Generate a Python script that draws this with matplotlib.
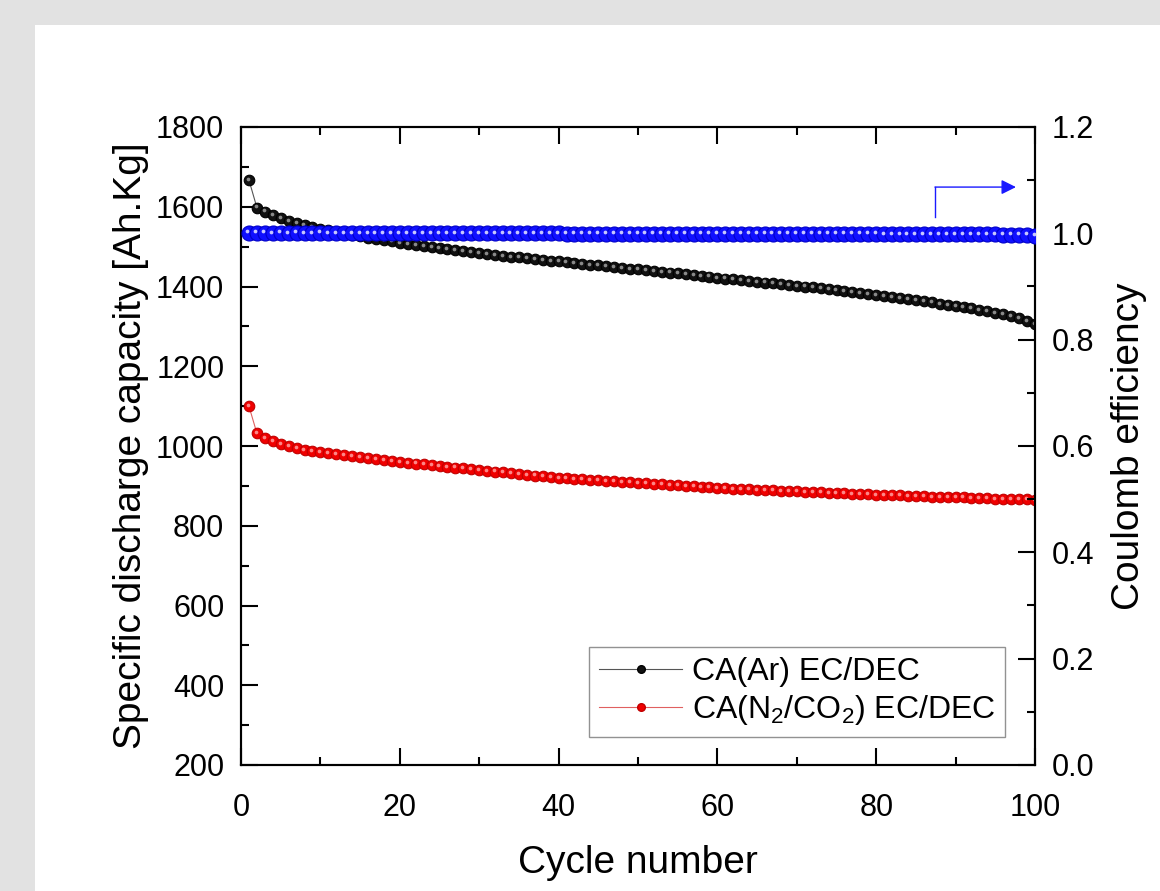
import matplotlib
matplotlib.use("Agg")
import matplotlib.pyplot as plt
from matplotlib.ticker import MultipleLocator
from matplotlib.transforms import offset_copy
from matplotlib.patches import Rectangle
from matplotlib.lines import Line2D

plt.rcParams['font.family'] = ['Liberation Sans', 'DejaVu Sans']
plt.rcParams['mathtext.fontset'] = 'custom'
plt.rcParams['mathtext.rm'] = 'Liberation Sans'
plt.rcParams['mathtext.it'] = 'Liberation Sans'

cycles = list(range(1, 101))

cap_ar = [1667, 1598, 1588, 1580, 1572, 1565, 1560, 1554, 1549, 1545,
          1541, 1537, 1533, 1529, 1526, 1522, 1519, 1516, 1513, 1510,
          1507, 1504, 1501, 1498, 1496, 1493, 1491, 1488, 1486, 1484,
          1481, 1479, 1477, 1475, 1473, 1471, 1469, 1467, 1465, 1463,
          1461, 1459, 1457, 1455, 1453, 1451, 1449, 1447, 1445, 1443,
          1441, 1439, 1437, 1435, 1433, 1431, 1429, 1427, 1425, 1422,
          1420, 1418, 1416, 1414, 1412, 1410, 1408, 1406, 1404, 1402,
          1400, 1398, 1396, 1394, 1391, 1389, 1387, 1384, 1382, 1379,
          1377, 1374, 1371, 1369, 1366, 1363, 1360, 1357, 1354, 1351,
          1348, 1345, 1341, 1338, 1334, 1330, 1325, 1320, 1314, 1306]

cap_n2co2 = [1100, 1032, 1020, 1012, 1005, 999, 995, 991, 988, 985,
             982, 979, 977, 974, 972, 970, 968, 966, 962, 960,
             958, 956, 954, 952, 950, 948, 946, 944, 942, 940,
             938, 936, 934, 932, 930, 928, 926, 924, 922, 920,
             919, 917, 916, 915, 914, 912, 911, 910, 909, 907,
             906, 905, 904, 902, 901, 900, 899, 897, 896, 895,
             894, 893, 892, 891, 890, 890, 889, 888, 887, 886,
             885, 884, 884, 883, 882, 881, 880, 879, 879, 878,
             877, 877, 876, 875, 875, 874, 873, 873, 872, 871,
             871, 870, 869, 869, 868, 867, 867, 866, 866, 865]

coulomb_eff = [1.001, 1.001, 1.001, 1.000, 1.001, 1.000, 1.001, 1.000, 1.000, 1.001,
               1.000, 1.000, 1.000, 1.000, 1.000, 1.000, 1.000, 1.000, 1.000, 1.000,
               1.000, 1.000, 1.000, 1.000, 1.000, 1.000, 1.000, 1.000, 1.000, 1.000,
               1.000, 1.000, 1.000, 1.000, 1.000, 1.000, 1.000, 1.000, 1.000, 1.000,
               0.999, 0.999, 0.999, 0.999, 0.999, 0.999, 0.999, 0.999, 0.999, 0.999,
               0.999, 0.999, 0.999, 0.999, 0.999, 0.999, 0.999, 0.999, 0.999, 0.999,
               0.999, 0.999, 0.999, 0.999, 0.999, 0.999, 0.999, 0.999, 0.999, 0.999,
               0.999, 0.999, 0.999, 0.999, 0.999, 0.999, 0.999, 0.999, 0.999, 0.999,
               0.998, 0.998, 0.998, 0.998, 0.998, 0.998, 0.998, 0.998, 0.998, 0.998,
               0.998, 0.998, 0.998, 0.998, 0.998, 0.997, 0.997, 0.997, 0.997, 0.995]

label_ar = 'CA(Ar) EC/DEC'
label_n2 = r'CA(N$_2$/CO$_2$) EC/DEC'

fig = plt.figure(figsize=(11.6, 8.91), dpi=100)
fig.patch.set_facecolor('#e2e2e2')
fig.patches.append(Rectangle((35 / 1160, 0), 1, 1 - 25 / 891, transform=fig.transFigure,
                             facecolor='white', edgecolor='none', zorder=-10))

ax = fig.add_axes([241 / 1160, 1 - 765 / 891, (1035 - 241) / 1160, (765 - 127) / 891])
ax.set_facecolor('none')
ax2 = ax.twinx()


def balls(axis, x, y, color, edge, hl, ms, lw, lcolor, z, hs=0.35):
    axis.plot(x, y, '-', color=lcolor, lw=lw, zorder=z)
    axis.plot(x, y, 'o', color=color, ms=ms, mec=edge, mew=0.8, zorder=z + 0.1)
    tr = offset_copy(axis.transData, fig=fig, x=-ms * 0.1, y=ms * 0.1, units='points')
    axis.plot(x, y, 'o', color=hl, ms=ms * hs, mew=0, alpha=0.85, transform=tr, zorder=z + 0.2)


balls(ax, cycles, cap_ar, '#111111', 'black', '#a0a0a0', 7.6, 0.8, '#555555', 3)
balls(ax, cycles, cap_n2co2, '#f00000', '#c00000', '#ffa0a0', 7.6, 0.8, '#e06060', 3)
balls(ax2, cycles, coulomb_eff, '#1010ff', '#0000c8', '#e8e8ff', 10.8, 0.8, '#1010ff', 3, hs=0.25)

ax.set_xlim(0, 100)
ax.set_ylim(200, 1800)
ax2.set_ylim(0.0, 1.2)

ax.xaxis.set_major_locator(MultipleLocator(20))
ax.xaxis.set_minor_locator(MultipleLocator(10))
ax.yaxis.set_major_locator(MultipleLocator(200))
ax.yaxis.set_minor_locator(MultipleLocator(100))
ax2.yaxis.set_major_locator(MultipleLocator(0.2))
ax2.yaxis.set_minor_locator(MultipleLocator(0.1))
ax2.yaxis.set_major_formatter(plt.FuncFormatter(lambda v, p: f'{v:.1f}'))

for a in (ax, ax2):
    for s in a.spines.values():
        s.set_linewidth(1.5)
        s.set_color('black')

ax.tick_params(which='both', direction='in', top=True, right=False, width=1.5, labelsize=22)
ax.tick_params(which='major', length=12)
ax.tick_params(which='minor', length=6)
ax.tick_params(axis='x', which='major', pad=20)
ax.tick_params(axis='y', which='major', pad=12)
ax2.tick_params(which='both', direction='in', width=1.5, labelsize=22)
ax2.tick_params(which='major', length=12, pad=12)
ax2.tick_params(which='minor', length=6)

ax.set_xlabel('Cycle number', fontsize=28, labelpad=16)
ax.set_ylabel('Specific discharge capacity [Ah.Kg]', fontsize=28, labelpad=5)
ax2.set_ylabel('Coulomb efficiency', fontsize=28, labelpad=12)

# arrow pointing to the right axis
ax2.plot([87.4, 87.4], [1.031, 1.087], color='#1a1aff', lw=1.0, zorder=4)
ax2.annotate('', xy=(97.6, 1.087), xytext=(87.4, 1.087),
             arrowprops=dict(arrowstyle='-|>', color='#1a1aff', lw=1.0,
                             mutation_scale=22, shrinkA=0, shrinkB=0), zorder=4)

h1 = Line2D([], [], color='#555555', lw=0.8, marker='o', ms=5.5, mfc='#111111', mec='black')
h2 = Line2D([], [], color='#e06060', lw=0.8, marker='o', ms=5.5, mfc='#f00000', mec='#c00000')
leg = ax2.legend([h1, h2], [label_ar, label_n2], loc='lower right',
                 bbox_to_anchor=(0.962, 0.044), fontsize=23, frameon=True, fancybox=False,
                 edgecolor='#777777', handlelength=2.6, handletextpad=0.3,
                 borderpad=0.3, labelspacing=0.2, borderaxespad=0)
leg.get_frame().set_linewidth(1.0)

fig.savefig('out.png', dpi=100, facecolor=fig.get_facecolor())
